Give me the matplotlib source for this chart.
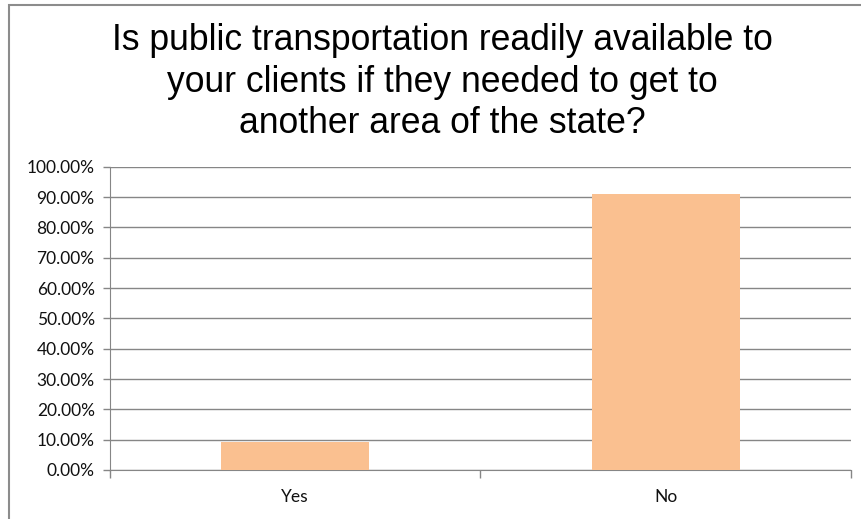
import matplotlib.pyplot as plt
from matplotlib.patches import Rectangle
from matplotlib.ticker import FuncFormatter, FixedLocator

# survey answers
categories = ['Yes', 'No']
shares = [9.09, 90.91]  # percent of respondents

title = ('Is public transportation readily available to\n'
         'your clients if they needed to get to\n'
         'another area of the state?')

fig = plt.figure(figsize=(8.62, 5.19), dpi=100)
ax = fig.add_axes([110 / 862, 1 - 470 / 519, 741 / 862, (470 - 166.7) / 519])

grid_col = '#868686'
x = range(len(categories))
ax.bar(x, shares, width=0.4, color='#FAC090', zorder=3)

ax.set_xlim(-0.5, len(categories) - 0.5)
ax.set_ylim(0, 100)
ax.set_yticks(range(0, 101, 10))
ax.yaxis.set_major_formatter(FuncFormatter(lambda v, p: f'{v:.2f}%'))
ax.set_xticks(list(x))
ax.set_xticklabels(categories)
ax.tick_params(axis='x', length=0, pad=14)
# category boundary ticks
ax.xaxis.set_minor_locator(FixedLocator([-0.5, 0.5, 1.5]))
ax.tick_params(axis='x', which='minor', length=6, color=grid_col, width=1)
ax.tick_params(axis='y', length=5, color=grid_col, width=1, pad=6)
for lab in ax.get_xticklabels() + ax.get_yticklabels():
    lab.set_fontfamily('Lato')
    lab.set_fontsize(12.5)
    lab.set_color('#111111')

ax.grid(axis='y', color=grid_col, linewidth=1, zorder=0)
for s in ['top', 'right']:
    ax.spines[s].set_visible(False)
ax.spines['left'].set_color(grid_col)
ax.spines['bottom'].set_color(grid_col)

fig.text(442 / 862, 1 - 133.3 / 519, title, ha='center', va='baseline',
         fontsize=25.6, family='Liberation Sans', linespacing=1.24)

# chart frame
fig.patches.append(Rectangle((9 / 862, -0.1), 1.1, 1.1 - 5 / 519,
                             transform=fig.transFigure, fill=False,
                             edgecolor='#8c8c8c', linewidth=1.5))

fig.savefig('out.png', dpi=100)
